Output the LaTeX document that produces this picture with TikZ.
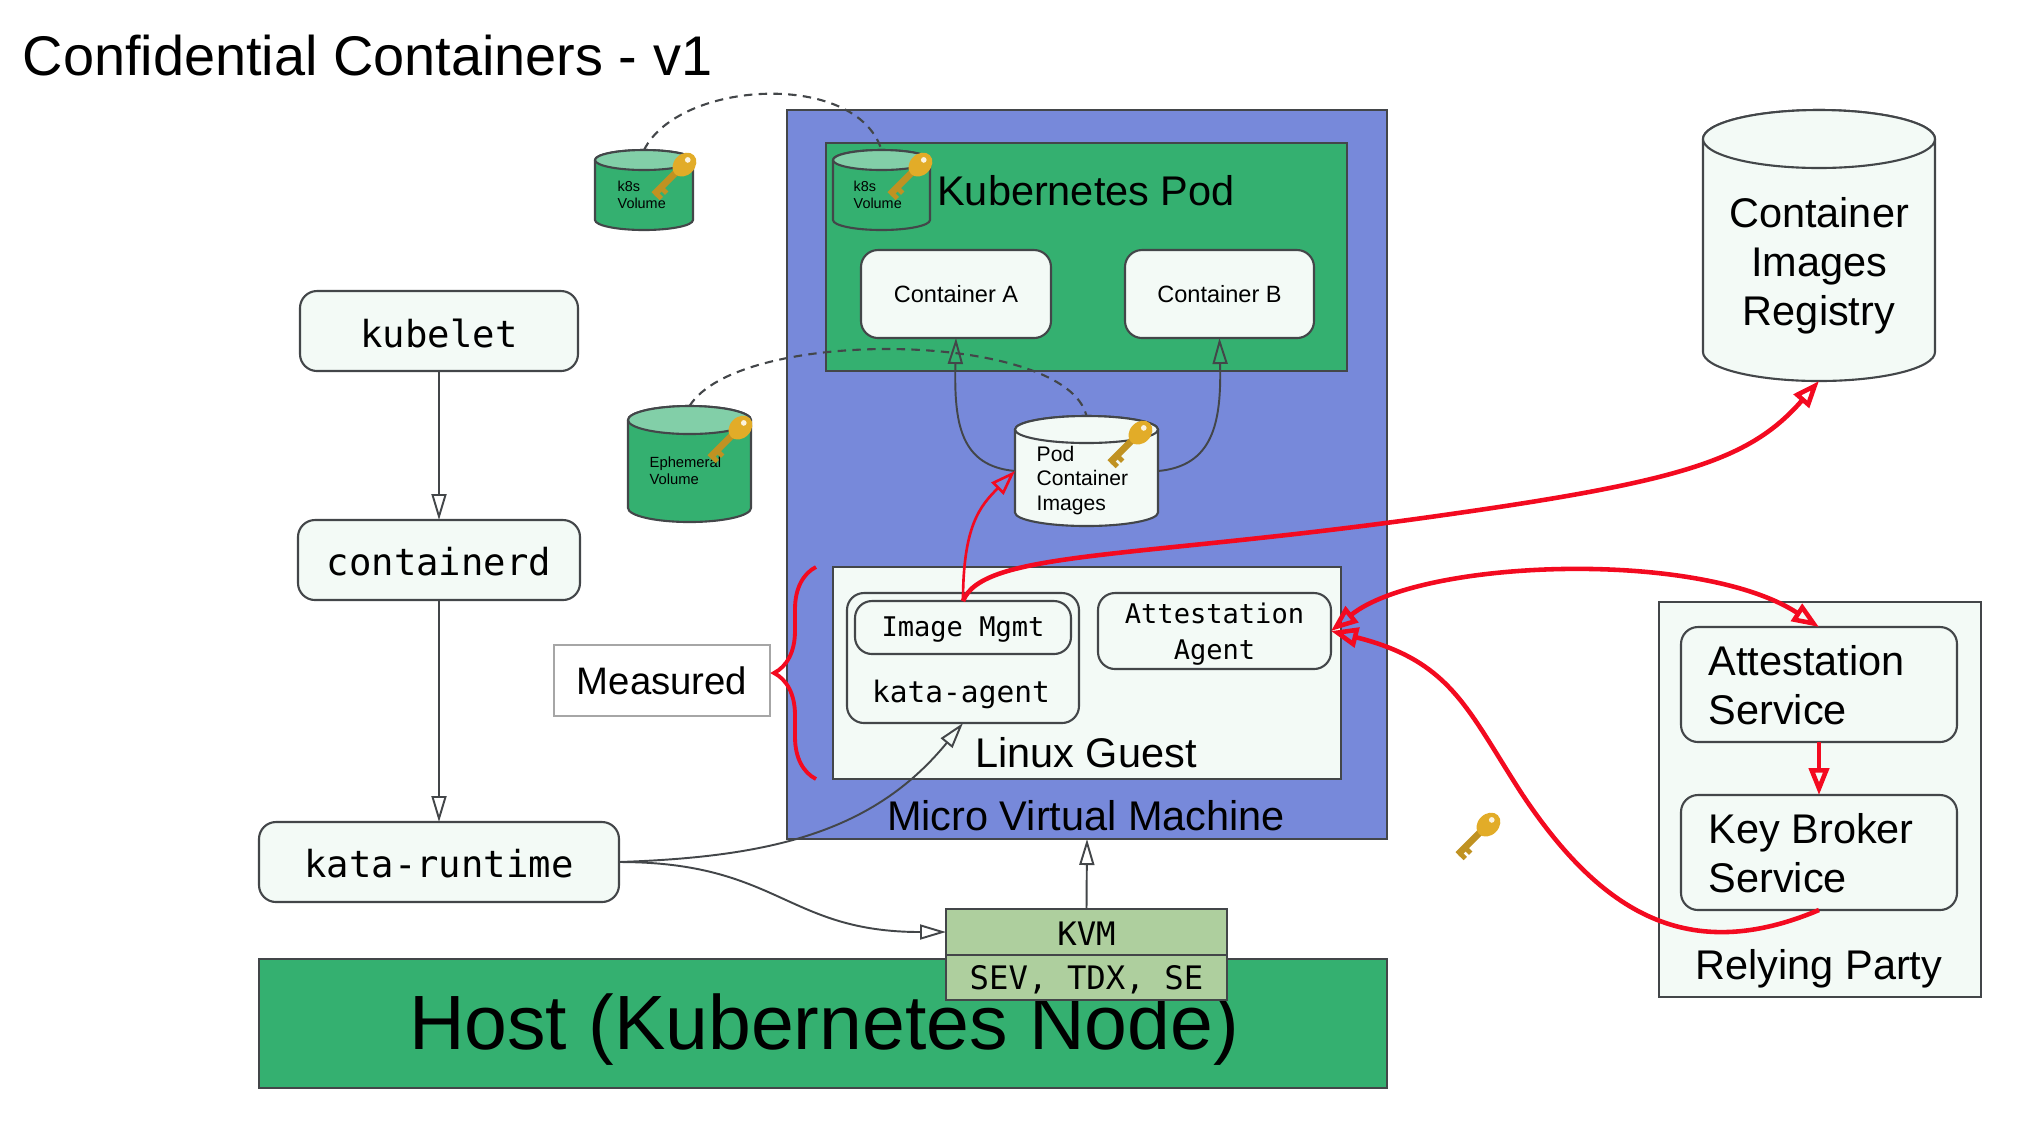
\documentclass[tikz,border=0pt]{standalone}
\usepackage{xcolor}
\usepackage{fontspec}
\setmainfont{Liberation Sans}
\setmonofont{DejaVu Sans Mono}
\usetikzlibrary{positioning, arrows.meta, calc, decorations.pathreplacing}

\definecolor{mvmblue}{HTML}{7789DA}
\definecolor{podgreen}{HTML}{34B070}
\definecolor{endgreen}{HTML}{82CFA8}
\definecolor{palegreen}{HTML}{F3FAF6}
\definecolor{kvmgreen}{HTML}{AECF9E}
\definecolor{linkred}{HTML}{F30A20}
\definecolor{keygold}{HTML}{E2AC28}
\definecolor{edgegray}{HTML}{434649}

\tikzset{
    goldkey/.pic={
        \begin{scope}[rotate=45, scale=0.95]
            \fill[keygold!85!black] (-0.31,-0.03) rectangle (0.05,0.04);
            \fill[keygold!85!black] (-0.31,-0.08) rectangle (-0.26,0);
            \fill[keygold!85!black] (-0.23,-0.08) rectangle (-0.18,0);
            \fill[keygold] (0.14,0) ellipse (0.14 and 0.11);
            \fill[white!85!keygold] (0.2,0.01) circle (0.03);
        \end{scope}
    }
}

% node, half width, end radius, body colour, end colour
\newcommand{\drawcan}[5]{
    \draw[draw=edgegray, line width=0.6pt, fill=#4] ($(#1.north west)+(0,-#3)$) -- ($(#1.south west)+(0,#3)$)
        arc[start angle=180, end angle=360, x radius=#2, y radius=#3] -- ($(#1.north east)+(0,-#3)$)
        arc[start angle=0, end angle=180, x radius=#2, y radius=#3];
    \draw[draw=edgegray, line width=0.6pt, fill=#5] ($(#1.north)+(0,-#3)$) ellipse (#2 and #3);
}

\begin{document}
\begin{tikzpicture}[
    rect node/.style={rectangle, draw=edgegray, line width=0.6pt, inner sep=0pt, outer sep=0pt},
    soft node/.style={rect node, rounded corners=0.17cm, fill=palegreen},
    can node/.style={rectangle, inner sep=0pt, outer sep=0pt},
    big text/.style={font=\fontsize{11.8}{13.9}\selectfont, align=left, inner sep=0pt},
    mono text/.style={font=\ttfamily\fontsize{10.6}{12}\selectfont},
    small mono/.style={font=\ttfamily\fontsize{7.7}{10.4}\selectfont, align=center},
    tiny text/.style={font=\fontsize{4.2}{4.8}\selectfont, align=left, inner sep=0pt, anchor=west},
    arrow/.style={-{Triangle[open, length=2.6mm, width=1.5mm]}, draw=edgegray, line width=0.55pt},
    red thin/.style={-{Triangle[open, length=2.5mm, width=1.7mm]}, draw=linkred, line width=0.75pt},
    red thick/.style={-{Triangle[open, length=2.7mm, width=2mm]}, draw=linkred, line width=1.3pt},
    dash link/.style={dash pattern=on 2.4pt off 1.8pt, draw=edgegray, line width=0.6pt}
]

\useasboundingbox (0,0) rectangle (20.4,-11.39);
\node[font=\fontsize{15.9}{18}\selectfont, inner sep=0pt, anchor=west] (title) at (0.22,-0.56) {Confidential Containers - v1};

% host side
\node[rect node, fill=podgreen, minimum width=11.28cm, minimum height=1.29cm] (host) at (8.23,-10.235) {};
\node[font=\fontsize{21.9}{24}\selectfont, inner sep=0pt] (hosttext) at (8.24,-10.3) {Host (Kubernetes Node)};
\node[soft node, minimum width=2.78cm, minimum height=0.8cm] (kubelet) at (4.39,-3.31) {};
\node[mono text, inner sep=0pt] (kubelettext) at (4.39,-3.33) {kubelet};
\node[soft node, minimum width=2.82cm, minimum height=0.8cm] (containerd) at (4.39,-5.6) {};
\node[mono text, inner sep=0pt] (containerdtext) at (4.39,-5.62) {containerd};
\node[soft node, minimum width=3.6cm, minimum height=0.8cm] (runtime) at (4.39,-8.62) {};
\node[mono text, inner sep=0pt] (runtimetext) at (4.39,-8.64) {kata-runtime};

% micro vm
\node[rect node, fill=mvmblue, minimum width=6cm, minimum height=7.29cm] (mvm) at (10.87,-4.745) {};
\node[big text] (mvmlabel) at (10.86,-8.16) {Micro Virtual Machine};
\node[rect node, fill=podgreen, minimum width=5.21cm, minimum height=2.28cm] (pod) at (10.865,-2.57) {};
\node[big text] (podlabel) at (10.86,-1.91) {Kubernetes Pod};
\node[soft node, minimum width=1.9cm, minimum height=0.88cm, font=\fontsize{6.7}{8}\selectfont] (conta) at (9.56,-2.94) {Container A};
\node[soft node, minimum width=1.89cm, minimum height=0.88cm, font=\fontsize{6.7}{8}\selectfont] (contb) at (12.195,-2.94) {Container B};

% linux guest
\node[rect node, fill=palegreen, minimum width=5.08cm, minimum height=2.12cm] (guest) at (10.87,-6.73) {};
\node[big text] (guestlabel) at (10.86,-7.53) {Linux Guest};
\node[soft node, minimum width=2.32cm, minimum height=1.3cm] (agent) at (9.63,-6.58) {};
\node[soft node, minimum width=2.16cm, minimum height=0.53cm] (imgmgmt) at (9.63,-6.275) {};
\node[font=\ttfamily\fontsize{7.7}{9}\selectfont, inner sep=0pt] (imgtext) at (9.63,-6.3) {Image Mgmt};
\node[font=\ttfamily\fontsize{8.4}{10}\selectfont, inner sep=0pt] (agentlabel) at (9.61,-6.94) {kata-agent};
\node[soft node, minimum width=2.33cm, minimum height=0.76cm] (attagent) at (12.145,-6.31) {};
\node[small mono, inner sep=0pt] (attagenttext) at (12.145,-6.34) {Attestation\\Agent};

\node[rect node, draw=gray!70, fill=white, minimum width=2.16cm, minimum height=0.71cm, font=\fontsize{10.9}{13}\selectfont] (measured) at (6.62,-6.805) {Measured};
\coordinate (bracelow) at (8.16,-7.79);
\coordinate (braceup) at (8.16,-5.67);
\draw[draw=linkred, line width=1.1pt, decorate, decoration={brace, amplitude=0.42cm}] (bracelow) -- (braceup);

% kvm
\node[rect node, fill=kvmgreen, minimum width=2.81cm, minimum height=0.46cm] (kvm) at (10.865,-9.32) {};
\node[font=\ttfamily\fontsize{9.2}{11}\selectfont, inner sep=0pt] (kvmtext) at (10.865,-9.34) {KVM};
\node[rect node, fill=kvmgreen, minimum width=2.81cm, minimum height=0.45cm] (sev) at (10.865,-9.775) {};
\node[font=\ttfamily\fontsize{9.2}{11}\selectfont, inner sep=0pt] (sevtext) at (10.865,-9.8) {SEV, TDX, SE};

% volumes
\node[can node, minimum width=0.98cm, minimum height=0.8cm] (outervol) at (6.44,-1.9) {};
\drawcan{outervol}{0.49}{0.1}{podgreen}{endgreen}
\node[tiny text, font=\fontsize{4.1}{4.8}\selectfont] (outertext) at (6.17,-1.945) {k8s\\Volume};
\pic at (6.75,-1.74) {goldkey};
\node[can node, minimum width=0.97cm, minimum height=0.8cm] (innervol) at (8.815,-1.9) {};
\drawcan{innervol}{0.485}{0.1}{podgreen}{endgreen}
\node[tiny text, font=\fontsize{4.1}{4.8}\selectfont] (innertext) at (8.53,-1.945) {k8s\\Volume};
\pic at (9.11,-1.74) {goldkey};
\node[can node, minimum width=1.23cm, minimum height=1.16cm] (ephvol) at (6.895,-4.64) {};
\drawcan{ephvol}{0.615}{0.14}{podgreen}{endgreen}
\node[tiny text] (ephtext) at (6.49,-4.71) {Ephemeral\\Volume};
\pic at (7.31,-4.37) {goldkey};
\node[can node, minimum width=1.43cm, minimum height=1.1cm] (images) at (10.865,-4.71) {};
\drawcan{images}{0.715}{0.135}{palegreen}{palegreen}
\node[tiny text, font=\fontsize{6}{6.9}\selectfont] (imagestext) at (10.36,-4.805) {Pod\\Container\\Images};
\pic at (11.31,-4.42) {goldkey};

% registry and relying party
\node[can node, minimum width=2.32cm, minimum height=2.71cm] (registry) at (18.19,-2.455) {};
\drawcan{registry}{1.16}{0.29}{palegreen}{palegreen}
\node[big text, align=center] (registrytext) at (18.19,-2.66) {Container\\Images\\Registry};
\node[rect node, fill=palegreen, minimum width=3.22cm, minimum height=3.95cm] (party) at (18.2,-7.995) {};
\node[big text] (partylabel) at (18.19,-9.69) {Relying Party};
\node[soft node, minimum width=2.76cm, minimum height=1.15cm] (attservice) at (18.19,-6.845) {};
\node[big text] (attservicetext) at (17.08,-6.85) [anchor=west] {Attestation\\Service};
\node[soft node, minimum width=2.76cm, minimum height=1.15cm] (broker) at (18.19,-8.525) {};
\node[big text] (brokertext) at (17.08,-8.53) [anchor=west] {Key Broker\\Service};
\pic at (14.79,-8.34) {goldkey};

\draw[arrow] (kubelet) -- (containerd);
\draw[arrow] (containerd) -- (runtime);
\draw[arrow] (runtime.east) .. controls +(1.5,0.05) and +(-0.9,-1.1) .. (agent.south);
\draw[arrow] (runtime.east) .. controls +(1.6,0) and +(-1.6,0) .. (kvm.west);
\draw[arrow] (kvm.north) -- (mvm.south);
\draw[arrow] (images.west) .. controls +(-0.55,0.05) and +(-0.02,-0.85) .. (conta.south);
\draw[arrow] (images.east) .. controls +(0.55,0.05) and +(0.02,-0.85) .. (contb.south);

\draw[dash link] (outervol.north) .. controls +(0.35,0.7) and +(-0.25,0.8) .. (innervol.north);
\draw[dash link] (ephvol.north) .. controls +(0.5,0.8) and +(-0.2,0.85) .. (images.north);

\coordinate (regbend) at (14.3,-5.17);
\coordinate (kbsbend) at (15.22,-7.94);
\draw[red thin] (imgmgmt.north) .. controls +(0,0.75) and +(-0.35,-0.35) .. (images.west);
\draw[red thick] (imgmgmt.north) .. controls +(0.2,0.5) and +(-3,-0.42) .. (regbend) .. controls +(2.5,0.35) and +(-0.7,-0.8) .. (registry.south);
\draw[red thick, {Triangle[open, length=2.7mm, width=2mm]}-{Triangle[open, length=2.7mm, width=2mm]}] (attagent.east) .. controls +(0.9,0.72) and +(-1.2,0.78) .. (attservice.north);
\draw[red thick] (attservice.south) -- (broker.north);
\draw[red thick] (broker.south) .. controls +(-1.3,-0.55) and +(0.8,-1.2) .. (kbsbend) .. controls +(-0.55,0.85) and +(1.2,-0.3) .. (attagent.east);

\end{tikzpicture}
\end{document}
